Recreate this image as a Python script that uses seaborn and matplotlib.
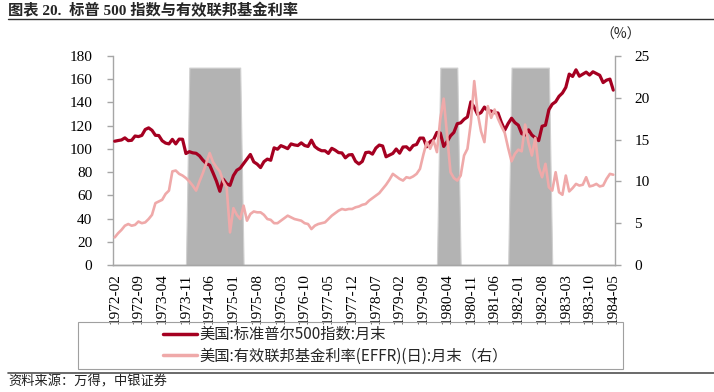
import pandas as pd
import numpy as np
import matplotlib
matplotlib.use("Agg")
import matplotlib.pyplot as plt
import seaborn as sns
from matplotlib.lines import Line2D
from matplotlib.patches import Rectangle

# monthly categories 1972-02 .. 1984-05
months = pd.period_range("1972-02", "1984-05", freq="M").strftime("%Y-%m").tolist()

# S&P 500, month end (left axis)
spx = [106.6, 107.2, 107.7, 109.5, 107.1, 107.4, 111.1, 110.6, 111.6, 116.7, 118.1,
       116.0, 111.7, 111.5, 107.0, 105.0, 104.3, 108.2, 104.3, 108.4, 108.3, 96.0, 97.6,
       96.6, 96.2, 94.0, 90.3, 87.3, 86.0, 79.3, 72.2, 63.5, 73.9, 70.0, 68.6,
       77.0, 81.6, 83.4, 87.3, 91.2, 95.2, 88.8, 86.9, 83.9, 89.0, 91.2, 90.2,
       100.9, 99.7, 102.8, 101.6, 100.2, 104.3, 103.4, 102.9, 105.2, 102.9, 102.1, 107.5,
       102.0, 99.8, 98.4, 98.4, 96.1, 100.5, 98.9, 96.8, 96.5, 92.3, 94.8, 95.1,
       89.3, 87.0, 89.2, 96.8, 97.2, 95.5, 100.7, 103.3, 102.5, 93.2, 94.7, 96.1,
       99.9, 96.3, 101.6, 101.8, 99.1, 102.9, 103.8, 109.3, 109.3, 101.8, 106.2, 107.9,
       114.2, 113.7, 102.1, 106.3, 111.2, 114.2, 121.7, 122.4, 125.5, 127.5, 140.5, 135.8,
       129.6, 131.3, 136.0, 132.8, 132.6, 131.2, 130.9, 122.8, 116.2, 121.9, 126.4, 122.6,
       120.4, 113.1, 112.0, 116.4, 111.9, 109.6, 107.1, 119.5, 120.4, 133.7, 138.5, 140.6,
       145.3, 148.1, 153.0, 164.4, 162.4, 168.1, 162.6, 164.4, 166.1, 163.6, 166.4, 164.9,
       163.4, 157.1, 159.2, 160.1, 150.6]

# effective fed funds rate, month end, % (right axis)
effr = [3.3, 3.8, 4.2, 4.7, 4.9, 4.7, 4.8, 5.2, 5.0, 5.1, 5.5,
        6.0, 7.4, 7.6, 7.8, 8.5, 8.9, 11.2, 11.3, 10.9, 10.7, 10.4, 10.0,
        9.5, 8.9, 10.0, 11.0, 12.2, 13.4, 12.3, 11.7, 11.2, 10.0, 9.3, 3.9,
        6.8, 6.0, 5.5, 7.1, 5.3, 6.1, 6.4, 6.3, 6.3, 6.0, 5.5, 5.4,
        5.0, 5.0, 5.3, 5.6, 5.9, 5.7, 5.5, 5.4, 5.3, 5.0, 4.9, 4.3,
        4.7, 4.9, 5.0, 5.1, 5.5, 5.9, 6.2, 6.5, 6.7, 6.6, 6.7, 6.7,
        6.9, 7.0, 7.2, 7.3, 7.7, 8.0, 8.3, 8.6, 9.1, 9.6, 10.2, 10.9,
        10.6, 10.3, 10.1, 10.5, 10.4, 10.6, 10.9, 11.5, 13.2, 14.7, 13.9, 14.9,
        13.5, 17.5, 19.9, 15.5, 11.1, 10.4, 10.1, 10.7, 13.1, 13.9, 17.0, 22.0,
        18.2, 16.0, 14.7, 19.0, 17.6, 18.6, 17.5, 16.6, 15.8, 14.0, 12.4, 13.3,
        13.8, 13.6, 16.8, 14.6, 13.1, 15.2, 11.7, 10.5, 12.1, 9.3, 8.9, 11.1,
        8.7, 8.4, 10.7, 8.8, 9.2, 9.7, 9.5, 9.6, 10.5, 9.4, 9.5, 9.7,
        9.4, 9.5, 10.3, 10.9, 10.8]

# shaded periods (start, end)
shade_periods = [("1973-12", "1975-03"), ("1980-02", "1980-07"), ("1981-11", "1982-10")]
shade_height = 170

x = np.arange(len(months))
shade = np.zeros(len(months))
for s, e in shade_periods:
    shade[months.index(s):months.index(e) + 1] = shade_height

sns.set_style("white")
plt.rcParams['font.family'] = ['Liberation Serif', 'Noto Sans CJK SC', 'DejaVu Sans']
cjk = ['Noto Sans CJK SC', 'DejaVu Sans']

red = '#A50021'
pink = '#EFA9A9'
grey = '#A6A6A6'

fig = plt.figure(figsize=(7.14, 3.92), dpi=100)
ax = fig.add_axes([113/714, 1-265/392, 502/714, 209/392])
ax2 = ax.twinx()

ax.fill_between(x, shade, color='#B3B3B3', linewidth=0.8, edgecolor='#D0D0D0', zorder=1)
sns.lineplot(x=x, y=spx, ax=ax, color=red, linewidth=2.3, zorder=3)
sns.lineplot(x=x, y=effr, ax=ax2, color=pink, linewidth=1.9, zorder=3)

ax.set_xlim(-0.5, len(months) - 0.5)
ax.set_ylim(0, 180)
ax.set_yticks(range(0, 181, 20))
ax2.set_ylim(0, 25)
ax2.set_yticks(range(0, 26, 5))
ax.set_xticks(x[::7])
ax.set_xticklabels(months[::7], rotation=90)

for a in (ax, ax2):
    a.spines['top'].set_visible(False)
    for side in ('left', 'right', 'bottom'):
        a.spines[side].set_color(grey)
        a.spines[side].set_linewidth(1.0)
    a.tick_params(axis='both', colors=grey, labelcolor='black', labelsize=11,
                  length=4, width=1, direction='out')
ax.spines['right'].set_visible(False)
ax2.spines['left'].set_visible(False)
ax.tick_params(axis='x', pad=2)
ax.tick_params(axis='y', pad=11)
ax2.tick_params(axis='y', pad=10)
ax.set_xlabel('')
ax.set_ylabel('')
ax2.set_ylabel('')

fig.text(621/714, 1-35/392, '（%）', fontsize=10, family=cjk, ha='center', va='center')

# title and rules
fig.text(8/714, 1-10/392, '图表 20.  标普 500 指数与有效联邦基金利率', fontsize=11,
         weight='bold', family=['Liberation Serif', 'Noto Sans CJK SC'], ha='left', va='center')
fig.add_artist(Line2D([8/714, 1], [1-19/392, 1-19/392], color='#303030', linewidth=1.0))
fig.add_artist(Line2D([8/714, 1], [1-373/392, 1-373/392], color='#505050', linewidth=1.2))

# legend box
fig.add_artist(Rectangle((78/714, 1-369/392), 545/714, 47/392, fill=False,
                         edgecolor='#A0A0A0', linewidth=0.8))
handles = [Line2D([], [], color=red, linewidth=2.5), Line2D([], [], color=pink, linewidth=2.5)]
labels = ['美国:标准普尔500指数:月末', '美国:有效联邦基金利率(EFFR)(日):月末（右）']
fig.legend(handles, labels, loc='center left', bbox_to_anchor=(163/714, 1-345.5/392),
           frameon=False, prop={'family': cjk, 'size': 11}, handlelength=2.2,
           handletextpad=0.2, labelspacing=0.3, borderaxespad=0, borderpad=0)

fig.text(8/714, 1-382/392, '资料来源：万得，中银证券', fontsize=9.5, family=cjk,
         style='italic', ha='left', va='center', color='#202020')

fig.savefig('out.png', dpi=100)
